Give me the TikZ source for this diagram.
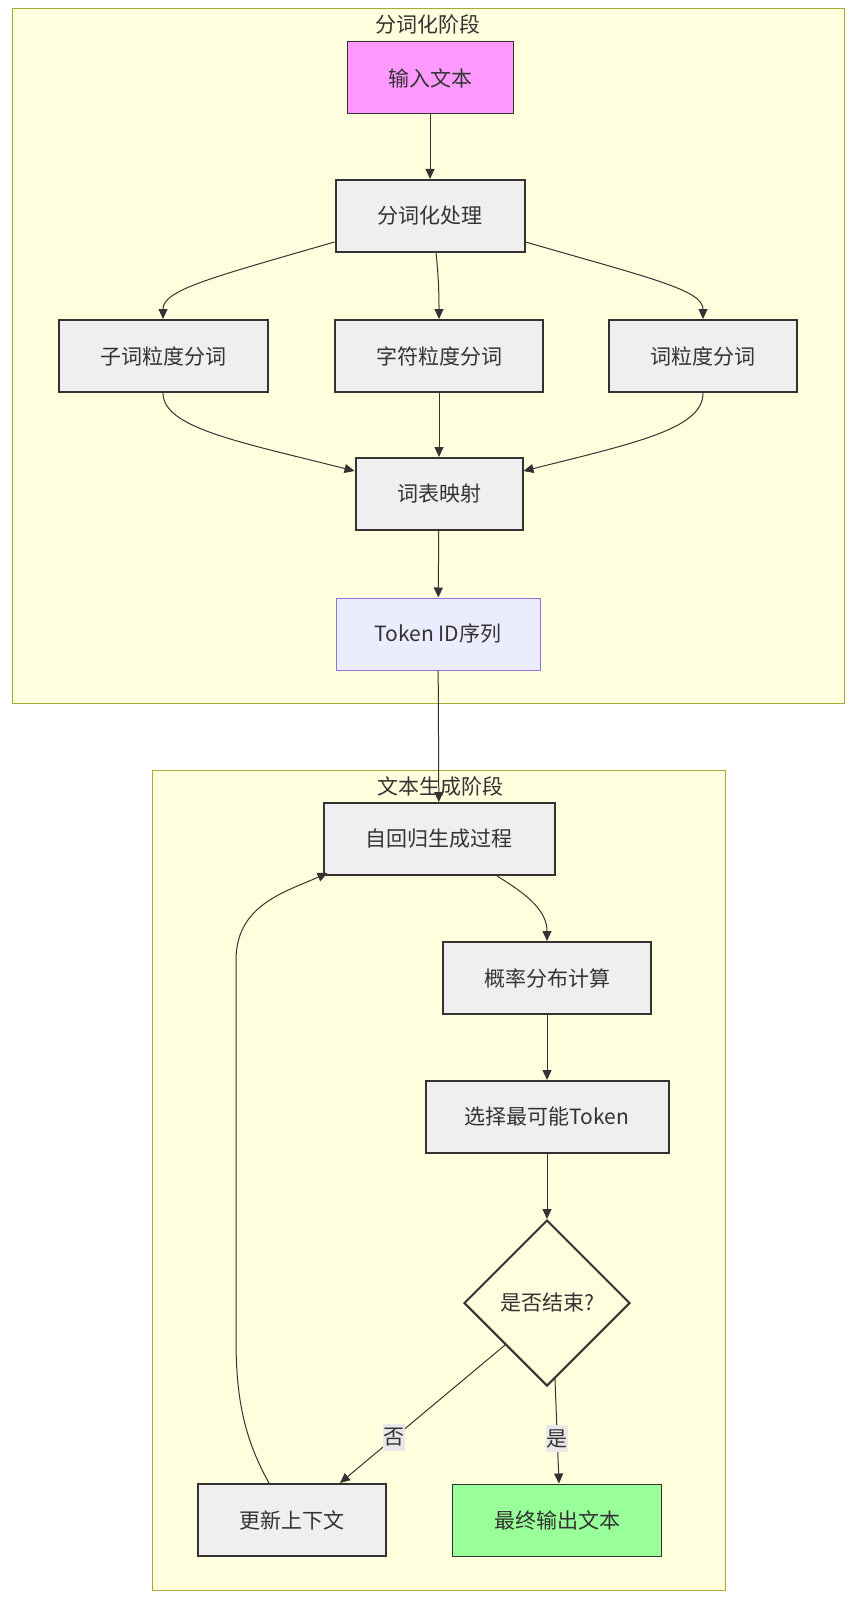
\documentclass[tikz,border=0pt]{standalone}
\usepackage{fontspec}
\setmainfont{Noto Sans CJK SC}
\usetikzlibrary{shapes.geometric,arrows.meta}
\definecolor{ink}{HTML}{333333}
\definecolor{clfill}{HTML}{FFFFDE}
\definecolor{clline}{HTML}{AAAA33}
\definecolor{boxfill}{HTML}{EFEFEF}
\definecolor{pinkfill}{HTML}{FF99FF}
\definecolor{lavfill}{HTML}{ECECFF}
\definecolor{lavline}{HTML}{9370DB}
\definecolor{greenfill}{HTML}{99FF99}
\definecolor{lblfill}{HTML}{E8E8E8}
\tikzset{
  txt/.style={font=\fontsize{21}{25}\selectfont, text=ink},
  cluster/.style={draw=clline, fill=clfill, line width=1pt},
  boxnode/.style={txt, rectangle, draw=ink, fill=boxfill, line width=2pt, minimum height=72pt, inner sep=0pt},
  thinnode/.style={txt, rectangle, draw=ink, line width=1pt, minimum height=72pt, inner sep=0pt},
  decnode/.style={txt, diamond, aspect=1, draw=ink, fill=clfill, line width=2pt, minimum size=166pt, inner sep=0pt},
  edge/.style={draw=ink, line width=1pt, -{Triangle[length=10pt,width=9pt]}},
  elabel/.style={txt, fill=lblfill, inner xsep=0.5pt, inner ysep=4pt}
}
\begin{document}
\begin{tikzpicture}[x=1pt,y=-1pt]
\useasboundingbox (0,0) rectangle (855,1597);
% clusters
\draw[cluster] (12,9) rectangle (844,703);
\node[txt] (t1) at (428,25) {分词化阶段};
\draw[cluster] (152,770) rectangle (725,1590);
\node[txt] (t2) at (440,787) {文本生成阶段};
% nodes
\node[thinnode, fill=pinkfill, minimum width=166pt] (in) at (430,78) {输入文本};
\node[boxnode, minimum width=189pt] (proc) at (430,216) {分词化处理};
\node[boxnode, minimum width=209pt] (sub) at (163,356) {子词粒度分词};
\node[boxnode, minimum width=208pt] (chr) at (439,356) {字符粒度分词};
\node[boxnode, minimum width=188pt] (wrd) at (703,356) {词粒度分词};
\node[boxnode, minimum width=167pt] (voc) at (439,494) {词表映射};
\node[thinnode, fill=lavfill, draw=lavline, minimum width=204pt] (tok) at (438,634) {Token ID序列};
\node[boxnode, minimum width=231pt] (auto) at (439,839) {自回归生成过程};
\node[boxnode, minimum width=208pt] (prob) at (547,978) {概率分布计算};
\node[boxnode, minimum width=243pt] (sel) at (547,1117) {选择最可能Token};
\node[decnode] (dec) at (547,1303) {是否结束?};
\node[boxnode, minimum width=188pt] (upd) at (292,1520) {更新上下文};
\node[thinnode, fill=greenfill, minimum width=209pt] (out) at (557,1520) {最终输出文本};
% edges
\draw[edge] (in) -- (proc);
\draw[edge] ([yshift=11pt]proc.south west) .. controls (210,278) and (163,290) .. (sub.north);
\draw[edge] ([xshift=6pt]proc.south) .. controls (439,280) and (439,300) .. (chr.north);
\draw[edge] ([yshift=11pt]proc.south east) .. controls (650,278) and (703,290) .. (wrd.north);
\draw[edge] (sub.south) .. controls (163,428) and (240,442) .. ([yshift=-14pt]voc.north west);
\draw[edge] (chr) -- (voc);
\draw[edge] (wrd.south) .. controls (703,428) and (640,442) .. ([yshift=-14pt]voc.north east);
\draw[edge] (voc) -- (tok);
\draw[edge] (tok) -- (auto);
\draw[edge] ([xshift=58pt]auto.south) .. controls (530,896) and (547,912) .. (prob.north);
\draw[edge] (prob) -- (sel);
\draw[edge] (sel) -- (dec);
\draw[edge] (dec.south west) -- node[elabel, pos=0.67] {否} ([xshift=48pt]upd.north);
\draw[edge] (dec.-84) -- node[elabel, pos=0.57] {是} ([xshift=2pt]out.north);
\draw[edge] ([xshift=-23pt]upd.north) .. controls (245,1440) and (236,1400) .. (236,1340) -- (236,960) .. controls (236,905) and (285,892) .. ([xshift=5pt,yshift=3pt]auto.south west);
\end{tikzpicture}
\end{document}
